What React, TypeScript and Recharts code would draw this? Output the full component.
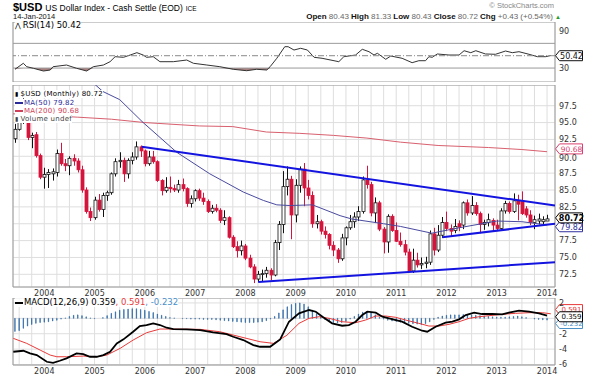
import React from 'react';
import { ComposedChart, Bar, Line, Area, XAxis, YAxis, CartesianGrid, ReferenceLine, ReferenceArea } from 'recharts';

// ---------- data (monthly, Jun 2003 .. Jan 2014; index 0 = Jun 2003, month index m = i - 7, m=0 is Jan 2004)
const open = [92.6, 94.0, 95.0, 98.0, 92.8, 93.2, 90.1,
  86.9, 87.3, 87.4, 87.6, 90.4, 88.9, 88.6, 89.7, 89.3, 88.0, 85.0, 81.8,
  80.9, 83.5, 82.1, 84.2, 84.6, 87.4, 89.2, 89.4, 87.4, 89.4, 89.9, 91.4,
  90.8, 88.9, 89.9, 89.2, 86.4, 84.9, 85.4, 85.2, 85.0, 85.8, 85.2, 83.0,
  83.7, 84.9, 83.8, 83.3, 81.8, 82.3, 82.0, 80.5, 80.9, 78.0, 76.6, 76.0,
  76.7, 74.9, 73.6, 71.8, 72.5, 72.6, 73.1, 72.4, 77.2, 79.9, 85.5, 86.6,
  81.3, 85.7, 88.1, 85.3, 84.2, 80.0, 80.3, 78.9, 78.4, 76.8, 76.1, 74.8,
  77.9, 79.4, 80.3, 81.0, 81.8, 86.5, 85.8, 81.6, 83.1, 79.2, 77.3, 81.1,
  79.0, 77.4, 76.9, 75.8, 73.0, 74.6, 73.9, 74.1, 74.3, 78.5, 76.1, 78.3,
  80.2, 79.3, 79.0, 80.0, 79.8, 83.1, 81.6, 82.7, 81.5, 79.9, 80.2, 80.5,
  79.8, 79.3, 81.9, 83.0, 81.8, 83.4, 83.3, 82.2, 81.3, 80.2, 80.4, 80.3,
  80.4];
const high = [94.8, 95.6, 98.6, 98.4, 93.5, 93.6, 90.4,
  88.3, 88.1, 88.2, 91.0, 92.0, 89.6, 90.0, 90.3, 89.7, 88.6, 85.4, 82.4,
  84.0, 84.4, 84.6, 84.9, 87.6, 89.7, 90.6, 89.8, 89.7, 90.6, 92.2, 91.6,
  91.0, 90.8, 90.8, 89.4, 86.6, 86.9, 87.0, 85.8, 86.5, 86.7, 85.4, 84.2,
  85.1, 85.2, 84.6, 83.6, 82.8, 82.9, 82.3, 82.0, 81.1, 78.3, 77.4, 77.5,
  77.0, 75.4, 74.0, 73.0, 73.2, 73.6, 73.4, 77.6, 80.4, 87.8, 88.5, 87.1,
  86.6, 88.5, 89.0, 86.5, 84.8, 81.3, 80.6, 79.6, 78.6, 77.4, 76.4, 78.5,
  79.6, 81.3, 81.7, 82.6, 87.0, 88.6, 86.2, 83.9, 83.4, 79.5, 81.4, 81.4,
  80.2, 78.7, 77.6, 76.3, 76.3, 75.7, 75.0, 75.1, 79.0, 79.4, 79.8, 81.0,
  81.8, 79.9, 80.7, 80.5, 83.3, 83.6, 84.1, 83.2, 81.8, 80.6, 81.5, 80.8,
  80.6, 82.3, 83.4, 83.3, 84.5, 84.3, 84.8, 82.6, 82.0, 81.2, 81.5, 81.1,
  81.33];
const low = [92.0, 93.8, 94.8, 92.4, 91.2, 89.8, 86.6,
  85.2, 85.3, 86.4, 87.0, 88.6, 87.8, 87.2, 88.6, 87.6, 84.6, 81.5, 80.4,
  80.6, 81.8, 81.0, 83.4, 84.3, 87.0, 88.3, 86.2, 86.7, 88.8, 89.5, 89.9,
  88.5, 88.6, 88.9, 86.2, 84.2, 84.6, 84.6, 84.7, 84.6, 84.8, 82.5, 82.4,
  83.3, 83.4, 82.8, 81.6, 81.5, 81.7, 80.1, 79.8, 77.8, 76.4, 75.0, 75.3,
  74.6, 73.4, 71.2, 71.3, 71.5, 72.0, 71.6, 72.2, 76.1, 78.6, 84.2, 77.7,
  80.2, 84.6, 82.6, 83.6, 79.4, 79.3, 78.4, 77.8, 76.2, 75.2, 74.2, 74.5,
  76.8, 79.1, 79.4, 80.4, 81.5, 85.2, 81.1, 80.1, 78.9, 75.6, 75.7, 78.8,
  77.3, 76.6, 75.3, 72.9, 72.7, 73.5, 73.3, 73.4, 73.9, 75.3, 75.8, 77.9,
  78.9, 78.1, 78.6, 78.9, 79.2, 81.2, 81.3, 81.2, 78.6, 79.1, 79.6, 79.0,
  78.9, 79.1, 81.5, 81.5, 81.6, 80.5, 81.3, 80.9, 79.8, 79.2, 79.9, 79.8,
  80.43];
const close = [94.0, 95.0, 98.0, 92.8, 93.1, 90.1, 86.9,
  87.3, 87.6, 87.7, 90.4, 88.9, 88.6, 89.7, 89.3, 88.0, 85.0, 81.8, 80.9,
  83.5, 82.1, 84.2, 84.6, 87.4, 89.2, 89.4, 87.4, 89.4, 89.9, 91.4, 90.8,
  88.9, 89.9, 89.2, 86.4, 84.9, 85.4, 85.2, 85.0, 85.8, 85.2, 83.0, 83.7,
  84.9, 83.8, 83.3, 81.8, 82.3, 82.0, 80.5, 80.9, 78.0, 76.6, 76.0, 76.7,
  74.9, 73.6, 71.8, 72.5, 72.6, 73.1, 72.4, 77.2, 79.9, 85.5, 86.6, 81.3,
  85.7, 88.1, 85.3, 84.2, 80.0, 80.3, 78.9, 78.4, 76.8, 76.1, 74.8, 77.9,
  79.4, 80.3, 81.0, 81.8, 86.5, 85.8, 81.6, 83.1, 79.2, 77.3, 81.1, 79.0,
  77.4, 76.9, 75.8, 73.0, 74.6, 73.9, 74.1, 74.3, 78.5, 76.1, 78.3, 80.2,
  79.3, 78.9, 79.6, 79.5, 83.1, 81.6, 82.7, 81.5, 79.9, 80.2, 80.6, 79.8,
  79.3, 81.9, 83.0, 81.8, 83.4, 82.9, 81.5, 81.3, 80.2, 80.6, 80.7, 80.6,
  80.72];

// moving averages (read at sample months)
const ma50M = [10, 14, 18, 23.6, 31.6, 39.5, 47.5, 52.3, 55.5, 58.6, 64, 70.6, 73.4, 81, 85, 92.5, 99, 108, 114, 120];
const ma50V = [101.8, 99.6, 98.4, 95.0, 90.6, 87.4, 84.7, 83.45, 82.8, 82.7, 82.8, 81.2, 80.7, 80.0, 79.6, 78.6, 79.4, 80.4, 80.3, 79.82];
const ma200M = [-7.5, 8, 16, 24, 37, 45, 53, 61, 69, 77, 85, 94, 106, 114, 120];
const ma200V = [96.3, 95.8, 95.5, 95.0, 94.5, 94.4, 93.6, 93.4, 93.1, 92.7, 92.1, 91.6, 91.3, 91.0, 90.68];

// trendlines
const trendStartM = [23.25, 51.1, 95];
const trendStartV = [91.4, 71.35, 78.0];
const trendEndM = [121.9, 121.9, 121.9];
const trendEndV = [82.7, 74.3, 80.0];

// RSI(14)
const rsiM = [-7, -5, -4.2, -2.6, -0.2, 1.4, 2.1, 5.3, 7.7, 10.1, 11.7, 14.1, 15.7, 16.9, 18.9, 20.5, 22.1, 23.6, 24.4, 26, 27.6, 30.8, 34, 35.6, 38.8, 41.9, 45.1, 48.3, 50.7, 53.1, 53.9, 55.5, 57.4, 58.2, 59.6, 61.2, 62.8, 64.4, 66.3, 70.3, 71.5, 74.3, 75.9, 77.5, 78.7, 79.5, 81.5, 82.7, 85.4, 87.8, 89.4, 91, 91.8, 92.6, 93.8, 96.6, 99, 100.2, 101.8, 103, 105.3, 107.7, 110.1, 111.7, 113.3, 115.7, 117.7, 119.7, 120.9];
const rsiV = [28.0, 37.7, 32.2, 29.6, 25.2, 26.8, 32.2, 34.9, 29.6, 25.2, 32.2, 34.9, 40.3, 48.4, 47.4, 51.1, 54.9, 51.1, 47.4, 48.4, 40.3, 40.3, 43.0, 37.7, 34.9, 32.2, 28.0, 25.7, 28.0, 26.8, 32.2, 45.8, 64.6, 64.6, 59.2, 62.0, 59.2, 47.4, 45.8, 40.3, 48.4, 51.1, 60.4, 56.5, 51.1, 53.9, 44.2, 49.5, 45.8, 38.7, 41.9, 41.9, 48.4, 47.4, 52.8, 51.1, 51.1, 58.1, 54.9, 58.1, 52.8, 52.3, 57.6, 54.9, 56.5, 52.3, 48.4, 48.4, 50.42];

// MACD(12,26,9)
const macdM = [-7.4, -5, -3.4, -1.8, 0.6, 2.1, 3.7, 5.3, 7.7, 9.3, 10.9, 12.5, 14.1, 15.7, 17.3, 18.9, 21.2, 22.8, 24.4, 26, 27.6, 29.2, 30.8, 34, 37.2, 40.3, 43.5, 45.1, 47.5, 49.9, 51.5, 53.9, 56.3, 58.4, 60.8, 63.2, 64.8, 66.4, 68.7, 71.1, 72.7, 74.3, 75.9, 77.1, 79.1, 80.7, 82.3, 83.9, 85.4, 87.8, 90.2, 91.4, 93.4, 95.8, 97.4, 99, 100.6, 102.6, 104.5, 106.9, 109.3, 110.9, 113.3, 115.7, 118.1, 120];
const macdV = [-4.34, -4.21, -4.55, -4.77, -5.64, -5.77, -5.51, -5.19, -4.55, -4.64, -4.99, -4.99, -4.77, -4.34, -3.25, -2.73, -1.74, -1.0, -0.87, -0.65, -0.87, -1.22, -1.39, -1.43, -1.52, -1.82, -2.04, -2.39, -2.82, -3.47, -3.69, -3.69, -2.73, -0.44, 0.65, 1.08, 0.86, 0.21, -0.65, -0.96, -0.87, -0.44, 0.43, 0.86, 0.73, 0.21, 0.0, -0.22, -0.44, -1.09, -1.61, -1.74, -1.09, -0.57, -0.44, -0.13, 0.43, 0.73, 0.56, 0.56, 0.52, 0.73, 0.99, 0.86, 0.65, 0.359];
const signalM = [-7.4, -4.2, -1, 1.4, 3, 5.3, 9.3, 12.5, 14.9, 18.1, 21.2, 24.4, 27.6, 30.8, 37.2, 41.9, 46.7, 51.5, 54.7, 57.9, 60.8, 63.2, 65.6, 68, 71.1, 74.3, 76.7, 79.1, 81.5, 83.9, 86.2, 89.4, 91.8, 94.2, 96.6, 99, 101.4, 103.8, 106.1, 109.3, 112.5, 115.7, 118.9, 120.9];
const signalV = [-2.6, -3.25, -4.12, -4.77, -4.99, -4.99, -4.9, -4.99, -4.77, -3.9, -2.82, -1.87, -1.39, -1.39, -1.43, -1.74, -2.39, -3.04, -3.25, -2.2, -0.65, 0.0, 0.21, 0.0, -0.44, -0.57, -0.22, 0.3, 0.3, 0.13, -0.22, -0.65, -1.0, -1.0, -0.78, -0.44, 0.0, 0.21, 0.34, 0.52, 0.65, 0.73, 0.73, 0.591];
const macdHist = [-1.7, -1.6, -1.3, -1.0, -0.8, -0.65, -0.55,
  -0.5, -0.45, -0.35, -0.25, -0.1, 0.05, 0.25, 0.4, 0.45, 0.35, 0.2, 0.05,
  -0.05, 0.0, 0.1, 0.35, 0.65, 0.85, 1.05, 1.15, 1.2, 1.25, 1.25, 1.15,
  1.05, 0.9, 0.75, 0.55, 0.4, 0.25, 0.1, 0.05, 0.0, -0.05, -0.05, -0.1,
  -0.1, -0.1, -0.15, -0.15, -0.15, -0.2, -0.25, -0.3, -0.35, -0.4, -0.45, -0.5,
  -0.55, -0.55, -0.55, -0.5, -0.45, -0.3, -0.1, 0.25, 0.7, 1.1, 1.5, 1.8,
  1.95, 2.0, 1.85, 1.5, 1.05, 0.6, 0.2, -0.15, -0.4, -0.55, -0.6, -0.55,
  -0.4, -0.1, 0.25, 0.55, 0.8, 0.85, 0.7, 0.45, 0.15, -0.1, -0.25, -0.35,
  -0.4, -0.5, -0.6, -0.65, -0.7, -0.75, -0.8, -0.7, -0.45, -0.15, 0.15, 0.3,
  0.4, 0.45, 0.45, 0.45, 0.5, 0.5, 0.45, 0.4, 0.35, 0.3, 0.25, 0.2,
  0.15, 0.15, 0.15, 0.2, 0.25, 0.3, 0.2, 0.1, 0.0, -0.1, -0.15, -0.2,
  -0.23];

// axes
const quarterTicks = [-6, -3, 0, 3, 6, 9, 12, 15, 18, 21, 24, 27, 30, 33, 36, 39, 42, 45, 48, 51, 54, 57, 60, 63, 66, 69, 72, 75, 78, 81, 84, 87, 90, 93, 96, 99, 102, 105, 108, 111, 114, 117, 120];
const yearTicks = [0, 12, 24, 36, 48, 60, 72, 84, 96, 108, 120];
const yearLabels = ['2004', '2005', '2006', '2007', '2008', '2009', '2010', '2011', '2012', '2013', '2014'];
const priceTicks = [72.5, 75, 77.5, 80, 82.5, 85, 87.5, 90, 92.5, 95, 97.5];
const priceHiddenTicks = [80];
const rsiTicks = [10, 30, 70, 90];
const macdTicks = [-6, -4, -2, 0, 2];
const macdHiddenTicks = [0];

// ---------- derived tables for the library
const FIRST = -7;
const candleData = open.map((o, i) => ({ m: i + FIRST, o, h: high[i], l: low[i], c: close[i], range: [low[i], high[i]] }));
const histData = macdHist.map((h, i) => ({ m: i + FIRST, h }));
const rsiData = rsiM.map((m, i) => ({ m, r: rsiV[i] }));
const macdData = macdM.map((m, i) => ({ m, v: macdV[i] }));
const signalData = signalM.map((m, i) => ({ m, v: signalV[i] }));
const ma50Data = ma50M.map((m, i) => ({ m, v: ma50V[i] }));
const ma200Data = ma200M.map((m, i) => ({ m, v: ma200V[i] }));
const trendData = trendStartM.map((m, i) => [{ m, v: trendStartV[i] }, { m: trendEndM[i], v: trendEndV[i] }]);

const X_DOMAIN: [number, number] = [-7.47, 121.9];
const RED = '#d5143d';
const GRID = '#dedede';
const FONT = '"DejaVu Sans", Verdana, sans-serif';
const TICK = { fontSize: 8, fill: '#333', fontFamily: FONT };
const yearFmt = (v: number) => {
  const k = yearTicks.indexOf(v);
  return k >= 0 ? yearLabels[k] : '';
};

function Candle(props: any) {
  const { x, y, width, height, payload } = props;
  if (!payload || x == null || y == null) return null;
  const top = Math.min(y, y + height);
  const bottom = Math.max(y, y + height);
  const span = payload.h - payload.l;
  const toY = (v: number) => (span > 0 ? top + ((payload.h - v) / span) * (bottom - top) : top);
  const cx = Math.round(x + width / 2) + 0.5;
  const up = payload.c >= payload.o;
  const bTop = toY(Math.max(payload.o, payload.c));
  const bBot = toY(Math.min(payload.o, payload.c));
  const col = up ? '#111' : RED;
  return (
    <g>
      <line x1={cx} x2={cx} y1={top} y2={bottom} stroke={col} strokeWidth={1} />
      <rect x={cx - 1.5} y={bTop} width={3} height={Math.max(bBot - bTop, 0.8)} fill={up ? '#fff' : RED} stroke={col} strokeWidth={0.8} />
    </g>
  );
}

const tag = (text: string, color: string, bold = false, dy = 0, fs = 8) => (props: any) => {
  const vb = props.viewBox || {};
  if (vb.x == null) return null;
  const x = vb.x + vb.width + 0.5;
  const y = vb.y + dy;
  return (
    <g>
      <path d={`M${x} ${y} L${x + 4} ${y - 5} L${x + 27} ${y - 5} L${x + 27} ${y + 5} L${x + 4} ${y + 5} Z`} fill="#fff" stroke={color} strokeWidth={1} />
      <text x={x + 16} y={y + fs * 0.36} textAnchor="middle" fontSize={fs} fontFamily={FONT} fontWeight={bold ? 'bold' : 'normal'} fill={color}>{text}</text>
    </g>
  );
};

// price axis tick: the 90.0 label sits just under the 90.68 tag, as in the reference
function PriceTick(props: any) {
  const { x, y, payload } = props;
  const v = payload?.value;
  if (v == null || priceHiddenTicks.includes(v)) return null;
  const shift = v === 90 ? 1.5 : 0;
  return (
    <text x={x} y={y + shift} dy="0.355em" textAnchor="start" fontSize={8} fontFamily={FONT} fill="#333">{v.toFixed(1)}</text>
  );
}

const W = 589;
const MARGIN = { top: 0, right: 0, bottom: 0, left: 13 };

function Frame({ y1, y2 }: { y1: number; y2: number }) {
  return <ReferenceArea x1={X_DOMAIN[0]} x2={X_DOMAIN[1]} y1={y1} y2={y2} fill="none" stroke="#9a9a9a" strokeWidth={1} ifOverflow="visible" />;
}

function RsiChart() {
  const dom: [number, number] = [7.4, 104.6];
  return (
    <ComposedChart width={W} height={60} data={rsiData} margin={MARGIN}>
      <CartesianGrid stroke={GRID} horizontal={false} />
      <XAxis dataKey="m" type="number" domain={X_DOMAIN} allowDataOverflow ticks={quarterTicks} height={0} tick={false} axisLine={false} tickLine={false} />
      <YAxis orientation="right" width={34} domain={dom} allowDataOverflow ticks={rsiTicks} tick={TICK} tickLine={false} axisLine={false} tickSize={0} tickMargin={4} />
      <ReferenceLine y={70} stroke="#9a9a9a" />
      <ReferenceLine y={30} stroke="#9a9a9a" />
      <Area dataKey={(d: any) => [Math.min(d.r, 30), 30]} stroke="none" fill="#9c6a6a" fillOpacity={0.85} isAnimationActive={false} />
      <Line dataKey="r" stroke="#333" strokeWidth={1} dot={false} isAnimationActive={false} />
      <ReferenceLine y={50} stroke="#8a8a8a" strokeDasharray="6 2 1 2" label={tag('50.42', '#111')} />
      <Frame y1={dom[0]} y2={dom[1]} />
    </ComposedChart>
  );
}

function PriceChart() {
  const dom: [number, number] = [70.62, 100.57];
  return (
    <ComposedChart width={W} height={216} data={candleData} margin={MARGIN}>
      <CartesianGrid stroke={GRID} />
      <XAxis dataKey="m" type="number" domain={X_DOMAIN} allowDataOverflow ticks={quarterTicks} tickFormatter={yearFmt} height={14} tick={TICK} axisLine={false} tickLine={false} tickSize={0} tickMargin={3} interval={0} />
      <YAxis orientation="right" width={34} domain={dom} allowDataOverflow ticks={priceTicks} tick={<PriceTick />} tickLine={false} axisLine={false} tickSize={0} tickMargin={4} interval={0} />
      <Line data={ma200Data} dataKey="v" stroke="#d8606e" strokeWidth={1} dot={false} isAnimationActive={false} />
      <Line data={ma50Data} dataKey="v" stroke="#4a4aa0" strokeWidth={1} dot={false} isAnimationActive={false} />
      <Bar dataKey="range" barSize={4} shape={(p: any) => <Candle {...p} />} isAnimationActive={false} />
      {trendData.map((seg, i) => (
        <Line key={i} data={seg} dataKey="v" stroke="#1414e0" strokeWidth={2} dot={false} isAnimationActive={false} />
      ))}
      <Frame y1={dom[0]} y2={dom[1]} />
      <ReferenceLine y={90.68} stroke="none" label={tag('90.68', '#d8406e', false, -2.8, 7.5)} />
      <ReferenceLine y={79.82} stroke="none" label={tag('79.82', '#3030a0', false, 1.8)} />
      <ReferenceLine y={80.72} stroke="none" label={tag('80.72', '#000', true, -1)} />
    </ComposedChart>
  );
}

function MacdChart() {
  const dom: [number, number] = [-6.06, 2.64];
  return (
    <ComposedChart width={W} height={81} data={histData} margin={MARGIN}>
      <CartesianGrid stroke={GRID} />
      <XAxis dataKey="m" type="number" domain={X_DOMAIN} allowDataOverflow ticks={quarterTicks} tickFormatter={yearFmt} height={14} tick={TICK} axisLine={false} tickLine={false} tickSize={0} tickMargin={3} interval={0} />
      <YAxis orientation="right" width={34} domain={dom} allowDataOverflow ticks={macdTicks} tickFormatter={(v: number) => (macdHiddenTicks.includes(v) ? '' : String(v))} tick={TICK} tickLine={false} axisLine={false} tickSize={0} tickMargin={4} interval={0} />
      <Bar dataKey="h" barSize={4} fill="#5a9ad4" stroke="#2a64a0" strokeWidth={0.7} isAnimationActive={false} />
      <Line data={signalData} dataKey="v" stroke="#e83a3a" strokeWidth={1} dot={false} isAnimationActive={false} />
      <Line data={macdData} dataKey="v" stroke="#000" strokeWidth={1.8} dot={false} isAnimationActive={false} />
      <Frame y1={dom[0]} y2={dom[1]} />
      <ReferenceLine y={0.591} stroke="none" label={tag('0.591', '#e83a3a', false, -4.2, 7)} />
      <ReferenceLine y={-0.232} stroke="none" label={tag('-0.232', '#4a8fc8', false, 3.4, 7)} />
      <ReferenceLine y={0.359} stroke="none" label={tag('0.359', '#000', false, 1.2, 7)} />
    </ComposedChart>
  );
}

const legendRow: React.CSSProperties = { height: 7.7, lineHeight: '7.7px', whiteSpace: 'nowrap', fontFamily: FONT, fontSize: 8.5 };
const priceLegendRow: React.CSSProperties = { height: 8.2, lineHeight: '8.2px', whiteSpace: 'nowrap', fontFamily: FONT, fontSize: 7, letterSpacing: 0.25 };
const dash = (c: string) => <span style={{ display: 'inline-block', width: 8, height: 2, background: c, verticalAlign: 'middle', marginRight: 1 }} />;

export default function App() {
  return (
    <div style={{ position: 'fixed', left: 0, top: 0, width: W, height: 379, background: '#fff', overflow: 'hidden', fontFamily: '"Liberation Sans", Arial, sans-serif' }}>
      {/* header */}
      <div style={{ position: 'absolute', left: 13, top: 0.4, whiteSpace: 'nowrap', lineHeight: '12px', height: 12 }}>
        <span style={{ fontWeight: 'bold', fontSize: 11 }}>$USD</span>
        <span style={{ fontSize: 8.5, marginLeft: 3 }}>US Dollar Index - Cash Settle (EOD)</span>
        <span style={{ fontSize: 6.5, marginLeft: 3 }}>ICE</span>
      </div>
      <div style={{ position: 'absolute', right: 35, top: 1, fontSize: 7.5, color: '#888', whiteSpace: 'nowrap', lineHeight: '10px' }}>© StockCharts.com</div>
      <div style={{ position: 'absolute', left: 13, top: 12.4, fontSize: 7.5, whiteSpace: 'nowrap', lineHeight: '9px', color: '#111' }}>14-Jan-2014</div>
      <div style={{ position: 'absolute', right: 36, top: 12, fontSize: 8, whiteSpace: 'nowrap', lineHeight: '9px', color: '#666' }}>
        <b style={{ color: '#111' }}>Open</b> 80.43 <b style={{ color: '#111' }}>High</b> 81.33 <b style={{ color: '#111' }}>Low</b> 80.43 <b style={{ color: '#111' }}>Close</b> 80.72 <b style={{ color: '#111' }}>Chg</b> +0.43 (+0.54%)
      </div>
      <div style={{ position: 'absolute', left: 555, top: 13, fontSize: 6, color: '#2a9a2a', lineHeight: '8px' }}>▲</div>

      {/* RSI */}
      <div style={{ position: 'absolute', left: 0, top: 22 }}><RsiChart /></div>
      <div style={{ position: 'absolute', left: 15, top: 22, ...legendRow, background: 'rgba(255,255,255,0.85)' }}>
        <span style={{ fontSize: 7, marginRight: 2 }}>⋀</span>RSI(14) 50.42
      </div>

      {/* Price */}
      <div style={{ position: 'absolute', left: 0, top: 85 }}><PriceChart /></div>
      <div style={{ position: 'absolute', left: 15, top: 90.4 }}>
        <div style={priceLegendRow}><span style={{ background: '#fff' }}><span style={{ fontSize: 6, marginRight: 2 }}>▮</span>$USD (Monthly) 80.72</span></div>
        <div style={{ ...priceLegendRow, color: '#2a2a9a' }}><span style={{ background: '#fff' }}>{dash('#2a2a9a')}MA(50) 79.82</span></div>
        <div style={{ ...priceLegendRow, color: '#d04058' }}><span style={{ background: '#fff' }}>{dash('#d04058')}MA(200) 90.68</span></div>
        <div style={{ ...priceLegendRow, color: '#444' }}><span style={{ background: '#fff' }}><span style={{ fontSize: 6, marginRight: 2 }}>▮</span>Volume undef</span></div>
      </div>

      {/* MACD */}
      <div style={{ position: 'absolute', left: 0, top: 298 }}><MacdChart /></div>
      <div style={{ position: 'absolute', left: 15, top: 299, ...legendRow }}>
        <span style={{ background: 'rgba(255,255,255,0.85)' }}>
          {dash('#000')}<span style={{ color: '#000' }}>MACD(12,26,9) 0.359</span><span style={{ color: '#e83a3a' }}>, 0.591</span><span style={{ color: '#4a8fc8' }}>, -0.232</span>
        </span>
      </div>
    </div>
  );
}
